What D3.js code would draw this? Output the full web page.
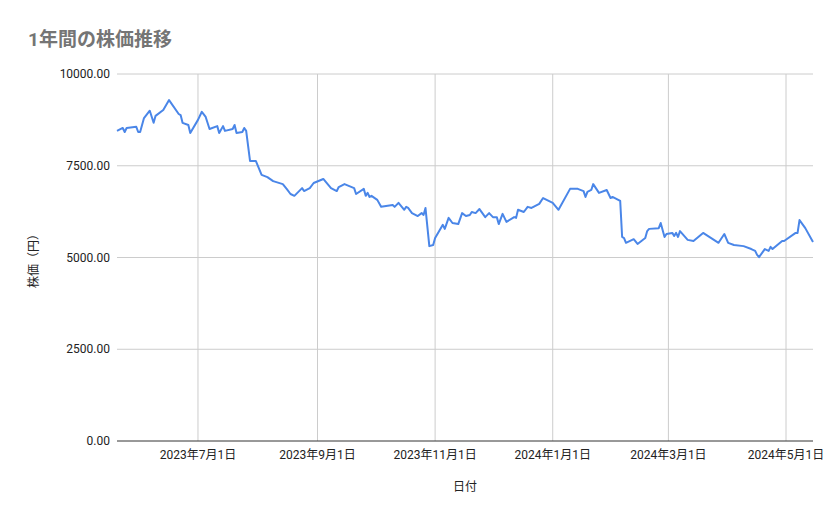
<!DOCTYPE html>
<html><head><meta charset="utf-8">
<script src="https://cdn.jsdelivr.net/npm/d3@7"></script>
<style>body{margin:0;background:#fff;font-family:Roboto,"Noto Sans CJK JP",sans-serif}</style>
</head><body><svg id="c" width="839" height="519"></svg>
<script>
const startDate = "2023-05-20";
const endDate = "2024-05-15";
// day offsets from startDate
const dayOffsets = [0,3,4,5,10,11,12,14,17,19,20,24,27,32,33,34,37,38,42,44,46,48,52,53,55,56,60,61,62,65,66,67,69,72,75,78,81,86,88,90,92,96,97,100,102,107,111,114,115,
118,123,124,128,129,130,131,132,135,137,143,144,146,149,150,151,153,156,158,159,160,162,164,165,169,170,172,174,177,179,181,183,184,186,188,191,193,195,197,198,200,202,206,207,208,211,213,215,219,221,226,229,235,
239,242,243,244,246,247,250,254,256,257,260,261,262,263,264,268,270,274,275,276,281,282,284,285,288,289,290,291,292,296,299,304,312,315,317,320,325,329,331,332,333,336,338,339,340,345,346,352,353,354,357,361];
const prices = [8450,8530,8420,8530,8560,8420,8420,8800,9000,8670,8860,9020,9290,8910,8880,8670,8610,8390,8750,8970,8830,8500,8580,8390,8580,8450,8500,8610,8390,8420,8530,8450,7630,7630,7250,7190,7080,7000,6870,6730,6680,6890,6810,6890,7030,7140,6890,6810,6920,
7000,6890,6730,6870,6680,6760,6650,6680,6570,6380,6430,6380,6490,6300,6380,6350,6210,6130,6210,6160,6350,5310,5340,5530,5890,5780,6080,5940,5910,6210,6130,6160,6240,6210,6320,6100,6210,6100,6100,5910,6190,5970,6100,6080,6300,6240,6380,6350,6460,6620,6490,6300,6870,
6870,6810,6650,6790,6840,7000,6760,6840,6620,6650,6570,6540,5560,5530,5400,5500,5370,5530,5720,5780,5800,5940,5560,5640,5670,5590,5670,5560,5720,5480,5450,5670,5400,5640,5400,5340,5310,5230,5180,5070,5010,5230,5180,5290,5230,5450,5450,5670,5670,6020,5800,5420];
const yTicks = [0,2500,5000,7500,10000];
const xTickDates = ["2023-07-01","2023-09-01","2023-11-01","2024-01-01","2024-03-01","2024-05-01"];
const title = "1年間の株価推移", xTitle = "日付", yTitle = "株価（円）";

const parse = d3.timeParse("%Y-%m-%d");
const s0 = parse(startDate);
const data = dayOffsets.map((o,i)=>({d:d3.timeDay.offset(s0,o), v:prices[i]}));
const svg = d3.select("#c");
const L=117,R=813,T=74,B=441;
const x = d3.scaleTime().domain([s0, parse(endDate)]).range([L,R]);
const y = d3.scaleLinear().domain([0,10000]).range([B,T]);

svg.append("text").attr("x",28).attr("y",46).attr("font-size",19).attr("font-weight","bold").attr("fill","#757575").text(title);

const g = svg.append("g");
g.selectAll(".hg").data(yTicks.slice(1)).join("line").attr("x1",L).attr("x2",R)
 .attr("y1",d=>y(d)).attr("y2",d=>y(d)).attr("stroke","#cccccc");
g.selectAll(".vg").data(xTickDates).join("line").attr("x1",d=>x(parse(d))).attr("x2",d=>x(parse(d)))
 .attr("y1",T).attr("y2",B).attr("stroke","#cccccc");
g.append("line").attr("x1",L).attr("x2",R).attr("y1",B).attr("y2",B).attr("stroke","#333");

g.selectAll(".yl").data(yTicks).join("text").attr("x",L-7).attr("y",d=>y(d)+4).attr("text-anchor","end")
 .attr("font-size",12).attr("fill","#222").text(d=>d3.format(".2f")(d));
g.selectAll(".xl").data(xTickDates).join("text").attr("x",d=>x(parse(d))).attr("y",459).attr("text-anchor","middle")
 .attr("font-size",12).attr("fill","#222").text(d=>{const t=parse(d);return `${t.getFullYear()}年${t.getMonth()+1}月${t.getDate()}日`;});

svg.append("text").attr("x",465).attr("y",491).attr("text-anchor","middle").attr("font-size",12).attr("fill","#222").text(xTitle);
svg.append("text").attr("transform","translate(38,258) rotate(-90)").attr("text-anchor","middle").attr("font-size",12).attr("fill","#222").text(yTitle);

svg.append("path").datum(data).attr("fill","none").attr("stroke","#4a86e8").attr("stroke-width",2).attr("stroke-linejoin","round")
 .attr("d",d3.line().x(d=>x(d.d)).y(d=>y(d.v)));
</script></body></html>
